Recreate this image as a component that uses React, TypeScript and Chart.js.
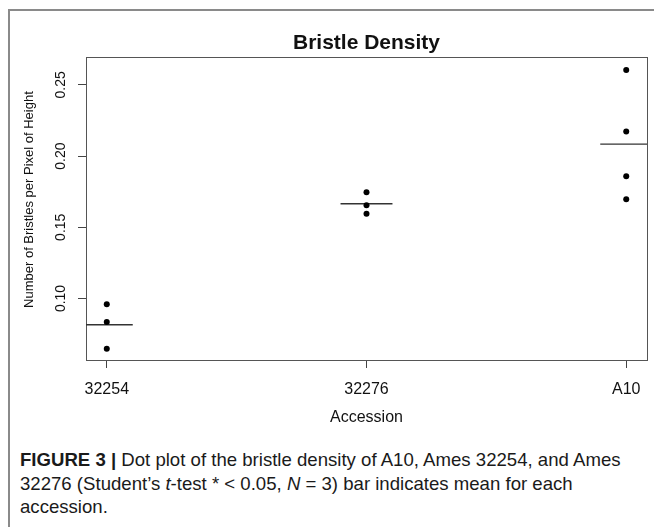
import React, { useEffect, useRef } from "react";
import { Chart, registerables } from "chart.js";

Chart.register(...registerables);

// ---- Data ----
const categories = ["32254", "32276", "A10"];
const values32254 = [0.096, 0.0834, 0.0647];
const values32276 = [0.1745, 0.1655, 0.1595];
const valuesA10 = [0.2605, 0.2173, 0.1859, 0.1696];
const meanValues = [0.0815, 0.1665, 0.2084];
const yTickValues = [0.1, 0.15, 0.2, 0.25];
const yLimits = [0.0568, 0.2694];
const xLimits = [-0.08, 2.08];

const FONT = '"Liberation Sans", Arial, Helvetica, sans-serif';
const MEAN_HALF = 0.1;
const NB = "\u00A0";

export default function App() {
  const ref = useRef<HTMLCanvasElement | null>(null);

  useEffect(() => {
    if (!ref.current) return;
    Chart.defaults.font.family = FONT;
    const groups = [values32254, values32276, valuesA10];

    const pointSets = groups.map((vals, i) => ({
      type: "scatter" as const,
      label: categories[i],
      data: vals.map((v) => ({ x: i, y: v })),
      pointRadius: 3,
      pointHoverRadius: 3,
      pointBackgroundColor: "#000",
      pointBorderColor: "#000",
      pointBorderWidth: 0,
      showLine: false,
    }));

    const meanSets = meanValues.map((m, i) => ({
      type: "scatter" as const,
      label: "mean " + categories[i],
      data: [
        { x: i - MEAN_HALF, y: m },
        { x: i + MEAN_HALF, y: m },
      ],
      showLine: true,
      borderColor: "#333",
      borderWidth: 1.4,
      pointRadius: 0,
      pointHoverRadius: 0,
      fill: false,
    }));

    const boxPlugin = {
      id: "plotBox",
      beforeDatasetsDraw(chart: any) {
        const { ctx, chartArea: a } = chart;
        ctx.save();
        ctx.strokeStyle = "#555";
        ctx.lineWidth = 1;
        const l = Math.round(a.left) + 0.5;
        const t = Math.round(a.top) + 0.5;
        const r = Math.round(a.right) + 0.5;
        const b = Math.round(a.bottom) + 0.5;
        ctx.strokeRect(l, t, r - l, b - t);
        ctx.restore();
      },
    };

    const chart = new Chart(ref.current, {
      type: "scatter",
      data: { datasets: [...pointSets, ...meanSets] as any },
      options: {
        responsive: false,
        animation: false,
        events: [],
        layout: { padding: { top: 20, left: 12, right: 7, bottom: 0 } },
        plugins: {
          legend: { display: false },
          tooltip: { enabled: false },
          title: {
            display: true,
            fullSize: false,
            text: "Bristle Density",
            color: "#111",
            font: { size: 21, weight: "bold", family: FONT },
            padding: { top: 0, bottom: 1 },
          },
        },
        scales: {
          x: {
            type: "linear",
            min: xLimits[0],
            max: xLimits[1],
            afterBuildTicks: (s: any) => {
              s.ticks = categories.map((_, i) => ({ value: i }));
            },
            afterFit: (s: any) => {
              s.height = 71;
            },
            ticks: {
              callback: (v: any) => categories[Math.round(Number(v))] ?? "",
              autoSkip: false,
              maxRotation: 0,
              minRotation: 0,
              padding: 12,
              color: "#111",
              font: { size: 16, family: FONT },
            },
            grid: {
              display: true,
              drawOnChartArea: false,
              drawTicks: true,
              tickLength: 8,
              color: "#444",
              lineWidth: 1,
            },
            border: { display: false },
            title: {
              display: true,
              text: "Accession",
              color: "#111",
              font: { size: 16, family: FONT },
              padding: { top: 0, bottom: 4 },
            },
          },
          y: {
            type: "linear",
            min: yLimits[0],
            max: yLimits[1],
            afterBuildTicks: (s: any) => {
              s.ticks = yTickValues.map((v) => ({ value: v }));
            },
            afterFit: (s: any) => {
              s.width = 64;
            },
            ticks: {
              callback: (v: any) => Number(v).toFixed(2),
              minRotation: 90,
              maxRotation: 90,
              crossAlign: "center",
              padding: 3,
              color: "#111",
              font: { size: 14, family: FONT },
            },
            grid: {
              display: true,
              drawOnChartArea: false,
              drawTicks: true,
              tickLength: 8,
              color: "#444",
              lineWidth: 1,
            },
            border: { display: false },
            title: {
              display: true,
              text: NB.repeat(5) + "Number of Bristles per Pixel of Height",
              color: "#111",
              font: { size: 13, family: FONT },
              padding: { top: 0, bottom: 0 },
            },
          },
        },
      },
      plugins: [boxPlugin],
    });
    return () => chart.destroy();
  }, []);

  return (
    <div
      style={{
        position: "fixed",
        left: 8,
        top: 9,
        width: 646,
        height: 518,
        borderLeft: "2px solid #8a8a8a",
        borderTop: "2px solid #8a8a8a",
        overflow: "hidden",
        background: "#fff",
        fontFamily: FONT,
      }}
    >
      <div style={{ position: "absolute", left: 0, top: 0, width: 644, height: 420 }}>
        <canvas ref={ref} width={644} height={420} style={{ display: "block" }} />
      </div>
      <div
        style={{
          position: "absolute",
          left: 10,
          top: 437,
          fontSize: 18.6,
          lineHeight: "23.5px",
          color: "#1a1a1a",
          whiteSpace: "nowrap",
        }}
      >
        <div>
          <b>FIGURE 3 |</b> Dot plot of the bristle density of A10, Ames 32254, and Ames
        </div>
        <div>
          32276 (Student’s <i>t</i>-test * &lt; 0.05, <i>N</i> = 3) bar indicates mean for each
        </div>
        <div>accession.</div>
      </div>
    </div>
  );
}
